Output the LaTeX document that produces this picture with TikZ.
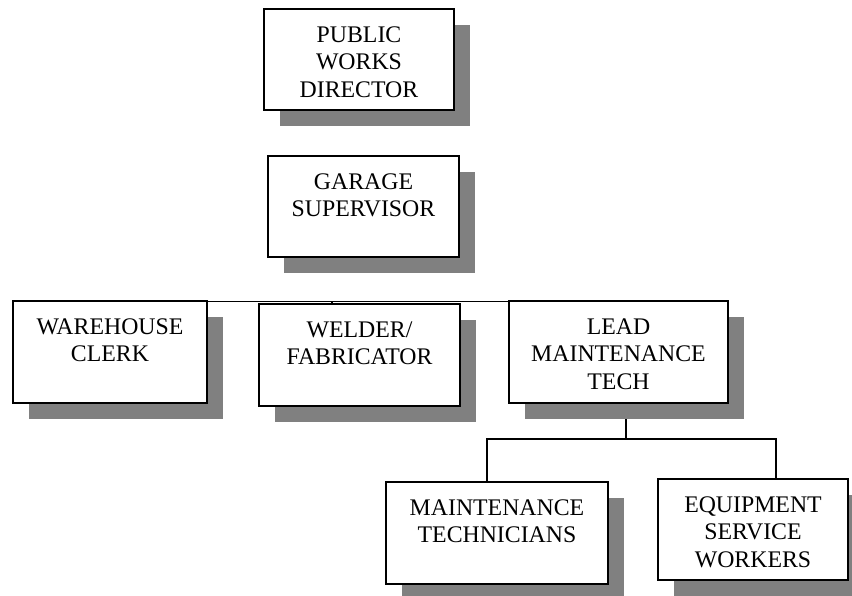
\documentclass[tikz,border=0pt]{standalone}
\usepackage{fontspec}
\setmainfont{Liberation Serif}
\usetikzlibrary{shadows,backgrounds}
\definecolor{shadowgray}{HTML}{808080}
\newcommand{\orgtext}[3]{\parbox[c][#2pt][t]{#1pt}{\centering\rule{0pt}{33pt}#3\par}}
\tikzset{
  orgbox/.style={draw, line width=1.6pt, fill=white, inner sep=0pt, outer sep=0pt,
    font=\fontsize{23.8}{27.5}\selectfont,
    general shadow={fill=shadowgray, shadow xshift=16pt, shadow yshift=-16pt}},
  conn/.style={line width=1.2pt, line cap=rect}
}
\begin{document}
\begin{tikzpicture}[x=1pt,y=-1pt]
\useasboundingbox (0,0) rectangle (852,595);
\node[orgbox] (pwd) at (359,59.5) {\orgtext{190}{101}{PUBLIC\\WORKS\\DIRECTOR}};
\node[orgbox] (gs) at (363.5,206.5) {\orgtext{191}{101}{GARAGE\\SUPERVISOR}};
\node[orgbox] (wc) at (110,352) {\orgtext{194}{102}{WAREHOUSE\\CLERK}};
\node[orgbox] (wf) at (359.5,355) {\orgtext{201}{102}{WELDER/\\FABRICATOR}};
\node[orgbox] (lmt) at (618.5,352) {\orgtext{219}{102}{LEAD\\MAINTENANCE\\TECH}};
\node[orgbox] (mt) at (497,533) {\orgtext{222}{102}{MAINTENANCE\\TECHNICIANS}};
\node[orgbox] (es) at (753,529.5) {\orgtext{190}{101}{EQUIPMENT\\SERVICE\\WORKERS}};
\coordinate (busL) at (159,301.5);
\coordinate (busR) at (583,301.5);
\coordinate (tick) at (332,301.5);
\coordinate (sj) at (626,439);
\coordinate (sl) at (487,439);
\coordinate (sr) at (776,439);
\begin{scope}[on background layer]
\draw[conn] (busL) -- (busR);
\draw[conn] (tick) -- (tick |- wf.north);
\draw[conn] (lmt.south -| sj) -- (sj);
\draw[conn] (mt.north -| sl) -- (sl) -- (sr) -- (es.north -| sr);
\end{scope}
\end{tikzpicture}
\end{document}
